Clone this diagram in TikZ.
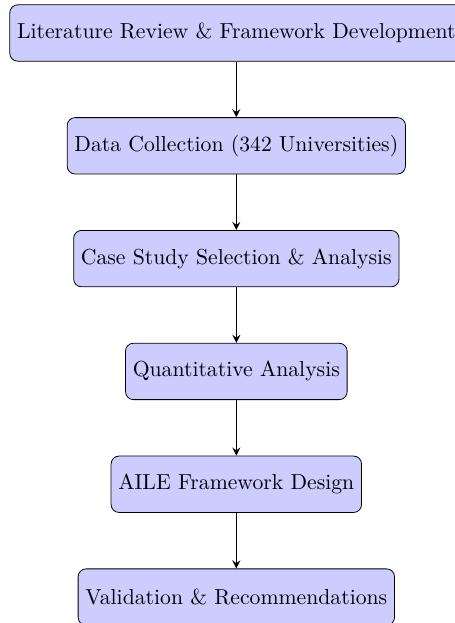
\documentclass[tikz,border=0pt,11pt]{standalone}
\usepackage{tikz}
\usetikzlibrary{shapes}

\begin{document}
\begin{tikzpicture}[stage/.style={draw, rectangle, rounded corners, fill=blue!20, minimum height=1cm, text centered}]
\useasboundingbox (-4.19,0.585) rectangle (3.86,-10.46);
\node[stage] (s1) at (0,0) {Literature Review \& Framework Development};
\node[stage] (s2) at (0,-2) {Data Collection (342 Universities)};
\node[stage] (s3) at (0,-4) {Case Study Selection \& Analysis};
\node[stage] (s4) at (0,-6) {Quantitative Analysis};
\node[stage] (s5) at (0,-8) {AILE Framework Design};
\node[stage] (s6) at (0,-10) {Validation \& Recommendations};
% Arrows
\draw [->, thick, >=stealth] (s1)--(s2);
\draw [->, thick, >=stealth] (s2)--(s3);
\draw [->, thick, >=stealth] (s3)--(s4);
\draw [->, thick, >=stealth] (s4)--(s5);
\draw [->, thick, >=stealth] (s5)--(s6);
\end{tikzpicture}
\end{document}
